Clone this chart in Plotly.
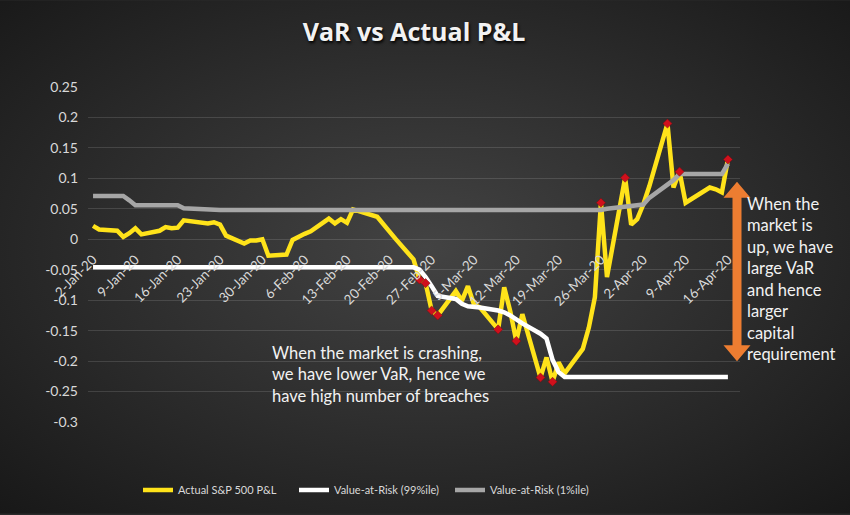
import base64
import plotly.graph_objects as go

# ---------------- data ----------------
dates = [
    "2020-01-02", "2020-01-03", "2020-01-06", "2020-01-07", "2020-01-08", "2020-01-09", "2020-01-10",
    "2020-01-13", "2020-01-14", "2020-01-15", "2020-01-16", "2020-01-17",
    "2020-01-21", "2020-01-22", "2020-01-23", "2020-01-24",
    "2020-01-27", "2020-01-28", "2020-01-29", "2020-01-30", "2020-01-31",
    "2020-02-03", "2020-02-04", "2020-02-05", "2020-02-06", "2020-02-07",
    "2020-02-10", "2020-02-11", "2020-02-12", "2020-02-13", "2020-02-14",
    "2020-02-18", "2020-02-19", "2020-02-20", "2020-02-21",
    "2020-02-24", "2020-02-25", "2020-02-26", "2020-02-27", "2020-02-28",
    "2020-03-02", "2020-03-03", "2020-03-04", "2020-03-05", "2020-03-06",
    "2020-03-09", "2020-03-10", "2020-03-11", "2020-03-12", "2020-03-13",
    "2020-03-16", "2020-03-17", "2020-03-18", "2020-03-19", "2020-03-20",
    "2020-03-23", "2020-03-24", "2020-03-25", "2020-03-26", "2020-03-27",
    "2020-03-30", "2020-03-31", "2020-04-01", "2020-04-02", "2020-04-03",
    "2020-04-06", "2020-04-07", "2020-04-08", "2020-04-09",
    "2020-04-13", "2020-04-14", "2020-04-15", "2020-04-16",
]

actual_pnl = [
    0.022, 0.016, 0.014, 0.004, 0.010, 0.018, 0.008,
    0.014, 0.020, 0.018, 0.019, 0.031,
    0.026, 0.028, 0.024, 0.006,
    -0.007, -0.002, -0.002, 0.000, -0.027,
    -0.025, -0.001, 0.005, 0.009, 0.013,
    0.034, 0.026, 0.033, 0.027, 0.049,
    0.037, 0.026, 0.013, 0.001,
    -0.033, -0.066, -0.072, -0.117, -0.125,
    -0.085, -0.101, -0.077, -0.107, -0.112,
    -0.148, -0.079, -0.118, -0.167, -0.123,
    -0.227, -0.194, -0.234, -0.202, -0.220,
    -0.180, -0.145, -0.095, 0.060, -0.062,
    0.101, 0.024, 0.033, 0.057, 0.087,
    0.190, 0.085, 0.111, 0.060,
    0.085, 0.082, 0.077, 0.131,
]

var_99 = [
    -0.046, -0.046, -0.046, -0.046, -0.046, -0.046, -0.046,
    -0.046, -0.046, -0.046, -0.046, -0.046,
    -0.046, -0.046, -0.046, -0.046,
    -0.046, -0.046, -0.046, -0.046, -0.046,
    -0.046, -0.046, -0.046, -0.046, -0.046,
    -0.046, -0.046, -0.046, -0.046, -0.046,
    -0.046, -0.046, -0.046, -0.046,
    -0.046, -0.050, -0.062, -0.077, -0.093,
    -0.098, -0.106, -0.110, -0.111, -0.112,
    -0.117, -0.120, -0.125, -0.132, -0.138,
    -0.155, -0.163, -0.198, -0.218, -0.226,
    -0.226, -0.226, -0.226, -0.226, -0.226,
    -0.226, -0.226, -0.226, -0.226, -0.226,
    -0.226, -0.226, -0.226, -0.226,
    -0.226, -0.226, -0.226, -0.226,
]

var_1 = [
    0.071, 0.071, 0.071, 0.071, 0.064, 0.056, 0.056,
    0.056, 0.056, 0.056, 0.056, 0.051,
    0.048, 0.048, 0.048, 0.048,
    0.048, 0.048, 0.048, 0.048, 0.048,
    0.048, 0.048, 0.048, 0.048, 0.048,
    0.048, 0.048, 0.048, 0.048, 0.048,
    0.048, 0.048, 0.048, 0.048,
    0.048, 0.048, 0.048, 0.048, 0.048,
    0.048, 0.048, 0.048, 0.048, 0.048,
    0.048, 0.048, 0.048, 0.048, 0.048,
    0.048, 0.048, 0.048, 0.048, 0.048,
    0.048, 0.048, 0.048, 0.048, 0.050,
    0.053, 0.055, 0.056, 0.057, 0.068,
    0.090, 0.097, 0.107, 0.107,
    0.107, 0.107, 0.107, 0.124,
]

breach_dates = [
    "2020-02-25", "2020-02-26", "2020-02-27", "2020-02-28",
    "2020-03-09", "2020-03-12", "2020-03-16", "2020-03-18",
    "2020-03-26", "2020-03-30", "2020-04-06", "2020-04-08", "2020-04-16",
]

y_tick_values = [0.25, 0.2, 0.15, 0.1, 0.05, 0, -0.05, -0.1, -0.15, -0.2, -0.25, -0.3]
y_tick_labels = ["0.25", "0.2", "0.15", "0.1", "0.05", "0", "-0.05", "-0.1", "-0.15", "-0.2", "-0.25", "-0.3"]

series_names = ["Actual S&P 500 P&L", "Value-at-Risk (99%ile)", "Value-at-Risk (1%ile)"]

title_text = "VaR vs Actual P&L"
note_crash = "When the market is crashing,<br>we have lower VaR, hence we<br>have high number of breaches"
note_up = "When the<br>market is<br>up, we have<br>large VaR<br>and hence<br>larger<br>capital<br>requirement"

# ---------------- figure ----------------
W, H = 850, 515
ML, MR, MT, MB = 88, 110, 87, 92
PW, PH = W - ML - MR, H - MT - MB
YMIN, YMAX = -0.3, 0.25
FONT = "Lato, 'Open Sans', sans-serif"

breach_vals = [actual_pnl[dates.index(d)] for d in breach_dates]

fig = go.Figure()
fig.add_trace(go.Scatter(x=dates, y=actual_pnl, mode="lines", name=series_names[0],
                         line=dict(color="#FFE31A", width=4.5)))
fig.add_trace(go.Scatter(x=dates, y=var_99, mode="lines", name=series_names[1],
                         line=dict(color="#FFFFFF", width=4.5)))
fig.add_trace(go.Scatter(x=dates, y=var_1, mode="lines", name=series_names[2],
                         line=dict(color="#A6A6A6", width=4.5)))
fig.add_trace(go.Scatter(x=breach_dates, y=breach_vals, mode="markers", showlegend=False,
                         marker=dict(symbol="diamond", size=7, color="#D0101C",
                                     line=dict(color="#7a0a10", width=0.5))))

# background radial gradient
svg = (f'<svg xmlns="http://www.w3.org/2000/svg" width="{W}" height="{H}">'
       '<defs><radialGradient id="g" cx="50%" cy="48%" r="72%">'
       '<stop offset="0%" stop-color="#434343"/>'
       '<stop offset="100%" stop-color="#181818"/>'
       '</radialGradient></defs>'
       f'<rect width="{W}" height="{H}" fill="url(#g)"/></svg>')
src = "data:image/svg+xml;base64," + base64.b64encode(svg.encode()).decode()
fig.add_layout_image(dict(source=src, xref="paper", yref="paper",
                          x=-ML / PW, y=1 + MT / PH, sizex=W / PW, sizey=H / PH,
                          xanchor="left", yanchor="top", sizing="stretch", layer="below"))

# orange double-headed arrow (paper coords)
ax = (737 - ML) / PW
y_top = (H - MB - 182) / PH
y_bot = (H - MB - 362) / PH
shaft = 4.5 / PW
head = 13.5 / PW
hl = 16 / PH
path = (f"M {ax} {y_top} L {ax + head} {y_top - hl} L {ax + shaft} {y_top - hl} "
        f"L {ax + shaft} {y_bot + hl} L {ax + head} {y_bot + hl} L {ax} {y_bot} "
        f"L {ax - head} {y_bot + hl} L {ax - shaft} {y_bot + hl} L {ax - shaft} {y_top - hl} "
        f"L {ax - head} {y_top - hl} Z")
fig.add_shape(type="path", path=path, xref="paper", yref="paper",
              fillcolor="#ED7D31", line=dict(width=0), layer="above")

txt_font = dict(family=FONT, size=16.5, color="#F2F2F2")
fig.add_annotation(text=note_crash, xref="paper", yref="paper",
                   x=(270 - ML) / PW, y=(H - MB - 342) / PH, xanchor="left", yanchor="top",
                   align="left", showarrow=False, font=txt_font)
fig.add_annotation(text=note_up, xref="paper", yref="paper",
                   x=(745 - ML) / PW, y=(H - MB - 192) / PH, xanchor="left", yanchor="top",
                   align="left", showarrow=False, font=txt_font)

fig.update_layout(
    width=W, height=H,
    margin=dict(l=ML, r=MR, t=MT, b=MB),
    paper_bgcolor="#2a2a2a",
    plot_bgcolor="rgba(0,0,0,0)",
    title=dict(text=f"<b>{title_text}</b>", x=0.5, xref="paper", xanchor="center",
               y=1 - 32 / H, yanchor="middle",
               font=dict(family="'Open Sans', Lato, sans-serif", size=25, color="#F2F2F2",
                         shadow="1px 2px 3px #000")),
    showlegend=True,
    legend=dict(orientation="h", x=(138 - ML) / PW, xanchor="left", y=-(490 - (H - MB)) / PH,
                yanchor="middle", bgcolor="rgba(0,0,0,0)", entrywidth=111, entrywidthmode="pixels",
                font=dict(family=FONT, size=11, color="#D9D9D9")),
    xaxis=dict(type="date", range=["2020-01-01 04:00", "2020-04-18 00:00"],
               tick0="2020-01-02", dtick=7 * 86400000, tickformat="%-d-%b-%y",
               tickangle=-45, showgrid=False, zeroline=False, showline=False, ticks="",
               anchor="free", position=(0 - YMIN) / (YMAX - YMIN), ticklabelstandoff=9,
               tickfont=dict(family=FONT, size=13.5, color="#D9D9D9")),
    yaxis=dict(range=[YMIN, YMAX], tickvals=y_tick_values, ticktext=y_tick_labels,
               showgrid=True, gridcolor="rgba(255,255,255,0.13)", gridwidth=1,
               zeroline=False, showline=False, ticks="", ticklabelstandoff=9,
               tickfont=dict(family=FONT, size=14, color="#D9D9D9")),
)

fig.write_html("out.html")
